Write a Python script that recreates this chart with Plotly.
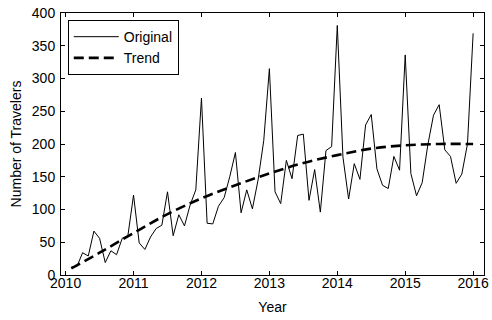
import plotly.graph_objects as go

# Monthly traveler counts, Jan 2010 .. Dec 2015 (plotted at year + month/12)
years = [2010, 2011, 2012, 2013, 2014, 2015]
travelers_2010 = [12, 13, 34, 29, 67, 56, 19, 37, 31, 56, 60, 122]
travelers_2011 = [49, 39, 58, 71, 76, 127, 60, 92, 75, 107, 130, 270]
travelers_2012 = [79, 78, 105, 118, 150, 187, 95, 130, 101, 145, 205, 315]
travelers_2013 = [127, 109, 175, 147, 213, 215, 114, 161, 96, 190, 196, 381]
travelers_2014 = [180, 116, 170, 146, 229, 245, 162, 137, 132, 181, 160, 336]
travelers_2015 = [155, 121, 141, 199, 244, 260, 191, 181, 140, 154, 200, 369]

# Smoothed trend, sampled every six months
trend_month_index = [1, 6, 12, 18, 24, 30, 36, 42, 48, 54, 60, 66, 72]
trend_values = [10, 34, 64, 93, 117, 137, 155, 171, 183, 193, 198, 200, 200]

y_ticks = [0, 50, 100, 150, 200, 250, 300, 350, 400]
x_ticks = [2010, 2011, 2012, 2013, 2014, 2015, 2016]

original = (travelers_2010 + travelers_2011 + travelers_2012
            + travelers_2013 + travelers_2014 + travelers_2015)
month_x = [years[0] + (i + 1) / 12 for i in range(len(original))]
trend_x = [years[0] + m / 12 for m in trend_month_index]

font_family = "Liberation Sans, Arial, sans-serif"
font_size = 14

fig = go.Figure()
fig.add_trace(go.Scatter(
    x=month_x, y=original, mode="lines", name="Original",
    line=dict(color="#000000", width=1),
))
fig.add_trace(go.Scatter(
    x=trend_x, y=trend_values, mode="lines", name="Trend",
    line=dict(color="#000000", width=2.6, dash="10px,5px", shape="spline"),
))

axis_common = dict(
    showline=True, linecolor="#000000", linewidth=1, mirror="ticks",
    ticks="inside", ticklen=4, tickcolor="#000000", tickwidth=1,
    showgrid=False, zeroline=False, ticklabeloverflow="allow",
    tickfont=dict(family=font_family, size=font_size, color="#000000"),
)

fig.update_layout(
    width=492, height=320,
    margin=dict(l=61, r=3, t=13, b=45),
    paper_bgcolor="#ffffff", plot_bgcolor="#ffffff",
    font=dict(family=font_family, size=font_size, color="#000000"),
    xaxis=dict(
        range=[2009.932, 2016.16], tickvals=x_ticks,
        ticktext=[str(v) for v in x_ticks],
        ticklabelstandoff=-5,
        title=dict(text="Year", standoff=12,
                   font=dict(family=font_family, size=font_size)),
        **axis_common,
    ),
    yaxis=dict(
        range=[0, 400], tickvals=y_ticks,
        ticktext=[str(v) for v in y_ticks],
        ticklabelstandoff=2,
        title=dict(text="Number of Travelers", standoff=6,
                   font=dict(family=font_family, size=font_size)),
        **axis_common,
    ),
    legend=dict(
        x=0.016, y=0.973, xanchor="left", yanchor="top",
        bgcolor="#ffffff", bordercolor="#000000", borderwidth=1,
        font=dict(family=font_family, size=font_size, color="#000000"),
        tracegroupgap=0, itemwidth=45,
    ),
    showlegend=True,
)

fig.write_html("out.html")
